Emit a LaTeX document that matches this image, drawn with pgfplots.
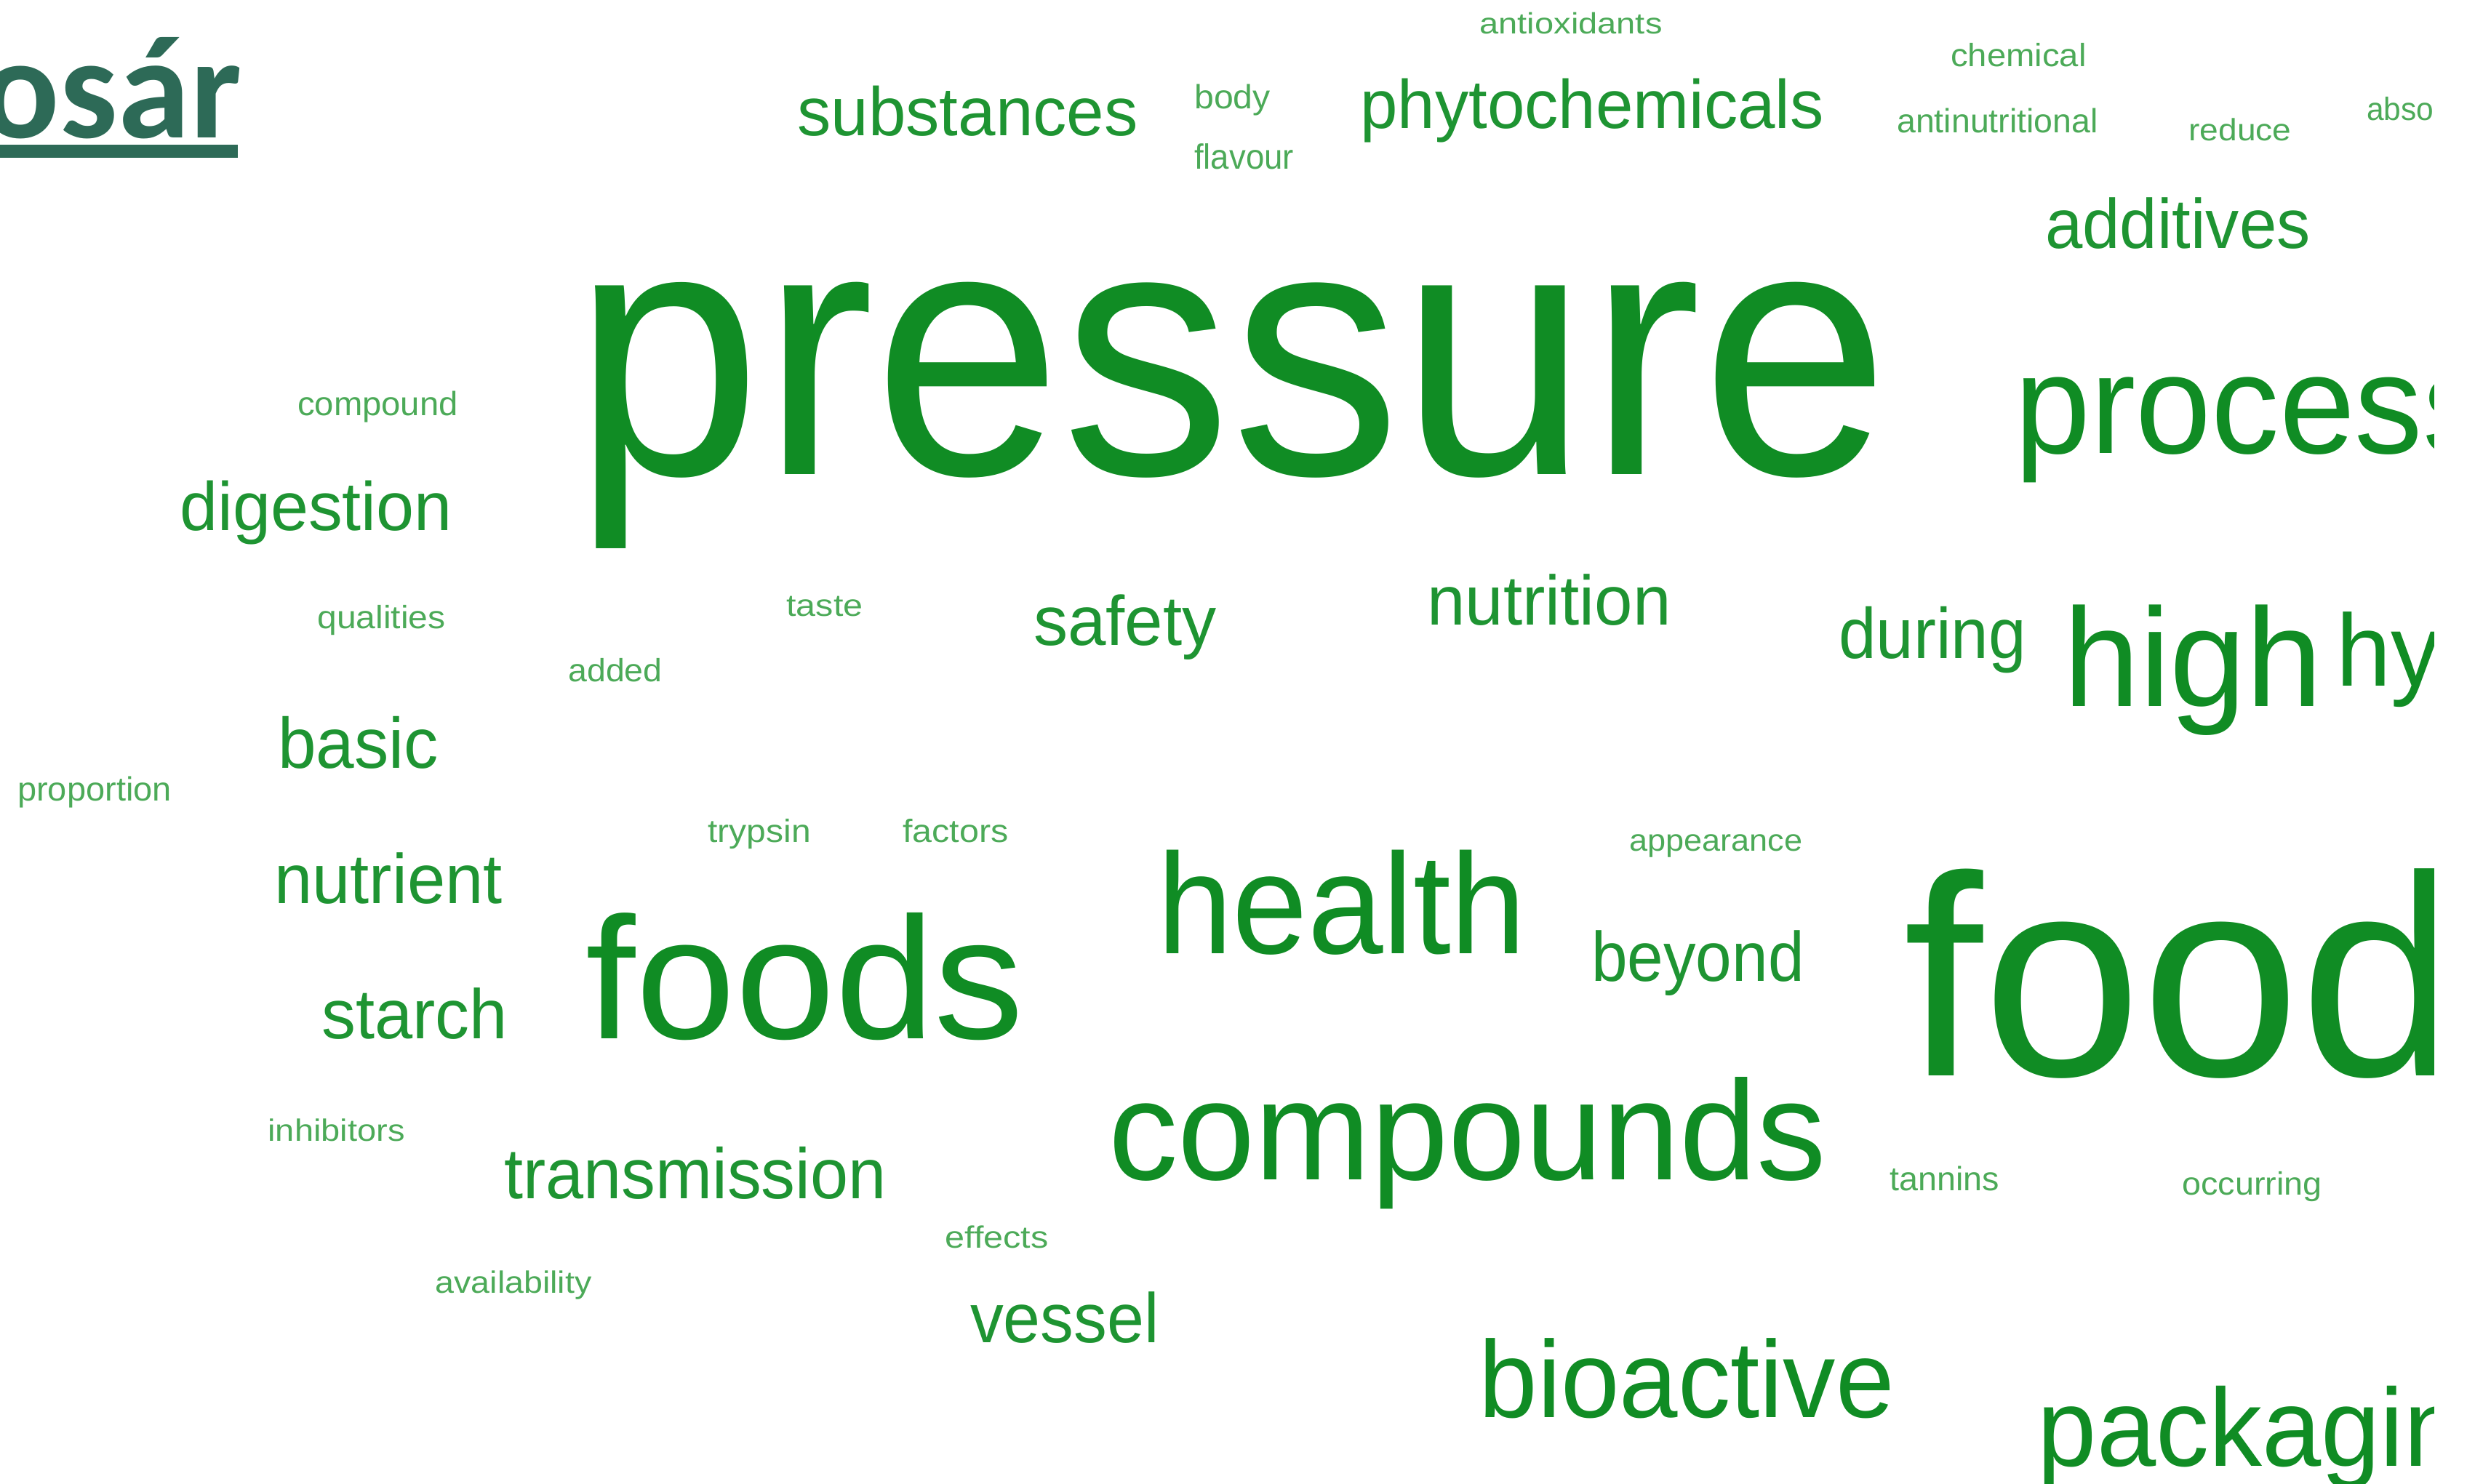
\documentclass[border=0pt]{standalone}
\usepackage{fontspec}
\setmainfont{Liberation Sans}
\newfontfamily\titlefont{Carlito}
\usepackage{graphicx}
\usepackage{pgfplots}
\pgfplotsset{compat=1.18}
\usepackage{pgfplotstable}
\definecolor{gbig}{HTML}{108C24}
\definecolor{gmed}{HTML}{1E9432}
\definecolor{gsmall}{HTML}{4CAA58}
\definecolor{titlecol}{HTML}{2D6A57}

% x = left ink edge, y = baseline, xh = x-height, w = ink width (all in reference pixels)
\pgfplotstableread{
x y xh w word
818 653 255 1761 pressure
2782 624 101 885 processing
2849 972 100 337 high
3221 944 73 640 hydrostatic
1603 1312 102 488 health
2641 1480 204 725 food
820 1429 124 579 foods
1536 1623 101 968 compounds
2043 1950 78 556 bioactive
2811 2017 79 651 packaging
}\bigwords

\pgfplotstableread{
x y xh w word
1102 187 49 459 substances
1876 177 49 628 phytochemicals
2818 342 50 355 additives
253 730 49 365 digestion
1427 888 50 242 safety
1968 860 50 326 nutrition
2534 906 51 248 during
388 1057 51 211 basic
383 1243 50 304 nutrient
2194 1350 50 283 beyond
448 1429 50 246 starch
699 1649 51 516 transmission
1340 1847 50 250 vessel
}\medwords

\pgfplotstableread{
x y xh w word
1645 150 24 100 body
1645 233 25 132 flavour
2037 47 21 247 antioxidants
2685 92 23 182 chemical
2611 183 24 272 antinutritional
3012 194 22 137 reduce
3257 166 23 194 absorption
412 572 24 216 compound
439 865 23 172 qualities
1084 848 22 101 taste
784 938 23 125 added
27 1102 24 207 proportion
976 1159 23 137 trypsin
1244 1159 23 141 factors
2243 1171 22 234 appearance
371 1570 22 184 inhibitors
2601 1638 24 146 tannins
3003 1644 23 188 occurring
1302 1717 22 138 effects
601 1779 22 211 availability
}\smallwords

\pgfplotsset{
  wordcloud/.style={
    only marks, mark=none, point meta=explicit symbolic,
    visualization depends on={\thisrow{xh}\as\xh},
    visualization depends on={\thisrow{w}\as\ww},
    nodes near coords={\pgfmathsetmacro\fs{\xh*0.4817}\pgfmathsetmacro\bw{(\ww+0.19*\xh)*0.25}\resizebox{\bw pt}{\height}{\fontsize{\fs pt}{\fs pt}\selectfont\pgfplotspointmeta}},
    every node near coord/.append style={anchor=base west, inner sep=0pt, outer sep=0pt, text=#1, xshift={-0.029*\xh*1pt}},
  }
}

\begin{document}
\begin{tikzpicture}
\begin{axis}[
  set layers,
  hide axis, clip=false,
  x=0.25pt, y=0.25pt, y dir=reverse,
  xmin=0, xmax=3403, ymin=0, ymax=2041,
]
\addplot[wordcloud=gbig] table[x=x, y=y, meta=word]{\bigwords};
\addplot[wordcloud=gmed] table[x=x, y=y, meta=word]{\medwords};
\addplot[wordcloud=gsmall] table[x=x, y=y, meta=word]{\smallwords};
% white margin on the right where the word cloud image ends
\addplot[on layer=axis foreground, fill=white, draw=none] coordinates {(3347,-200) (3800,-200) (3800,2300) (3347,2300)} -- cycle;
% title fragment
\addplot[only marks, mark=none, point meta=explicit symbolic,
  nodes near coords={\titlefont\bfseries\fontsize{50}{50}\selectfont\pgfplotspointmeta},
  every node near coord/.append style={anchor=base west, inner sep=0pt, outer sep=0pt, text=titlecol}]
  coordinates {(-25,190) [osár]};
\addplot[titlecol, line width=4.5pt, no marks] coordinates {(-40,208) (327,208)};
\end{axis}
\pgfresetboundingbox
\useasboundingbox (current axis.south west) rectangle (current axis.north east);
\end{tikzpicture}
\end{document}
